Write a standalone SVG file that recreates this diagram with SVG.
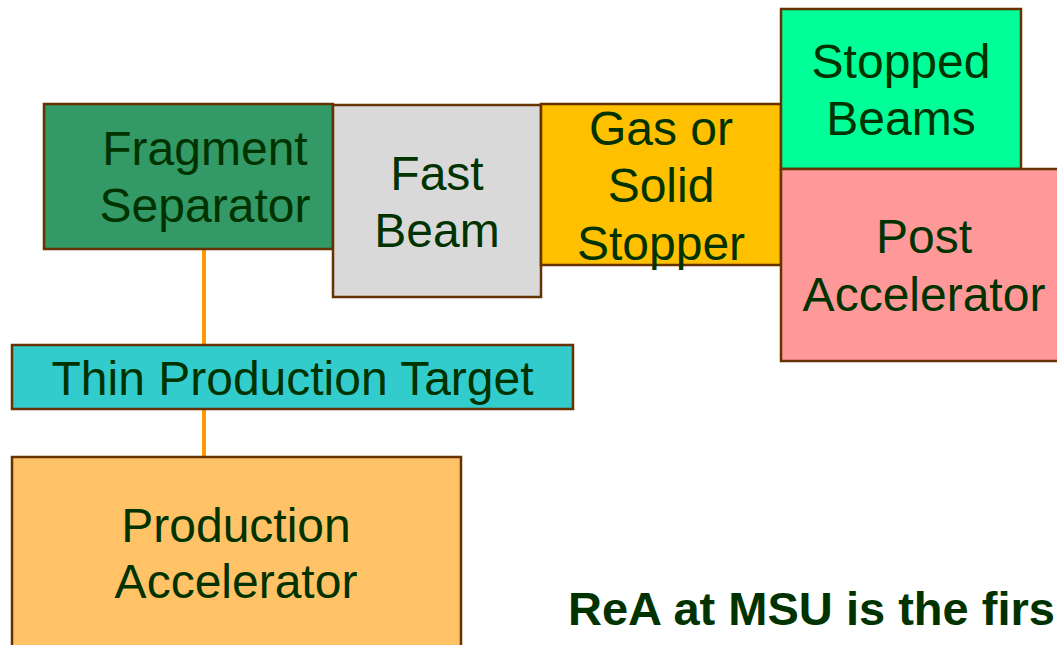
<svg xmlns="http://www.w3.org/2000/svg" width="1057" height="645" viewBox="0 0 1057 645">
<style>
.box{stroke:#663300;stroke-width:2.5}
.t{font-family:"Liberation Sans",Arial,sans-serif;font-size:48px;fill:#003300;text-anchor:middle}
.b{font-family:"Liberation Sans",Arial,sans-serif;font-size:46px;font-weight:bold;fill:#003300}
.c{stroke:#FF9900;stroke-width:4;fill:none}
</style>
<rect width="1057" height="645" fill="#ffffff"/>
<g id="connectors">
<line class="c" x1="204" y1="249" x2="204" y2="345"/>
<line class="c" x1="204" y1="409" x2="204" y2="457"/>
</g>
<g id="fragment-separator">
<rect class="box" x="44" y="104" width="289" height="145" fill="#339966"/>
<text class="t" x="205" y="165">Fragment</text>
<text class="t" x="205" y="222">Separator</text>
</g>
<g id="fast-beam">
<rect class="box" x="333" y="105" width="208" height="192" fill="#D9D9D9"/>
<text class="t" x="437" y="190">Fast</text>
<text class="t" x="437" y="247">Beam</text>
</g>
<g id="stopper">
<rect class="box" x="541" y="104" width="240" height="161" fill="#FFC000"/>
<text class="t" x="661" y="145">Gas or</text>
<text class="t" x="661" y="202">Solid</text>
<text class="t" x="661" y="260">Stopper</text>
</g>
<g id="stopped-beams">
<rect class="box" x="781" y="9" width="240" height="160" fill="#00FF99"/>
<text class="t" x="901" y="78">Stopped</text>
<text class="t" x="901" y="135">Beams</text>
</g>
<g id="post-accelerator">
<rect class="box" x="781" y="169" width="290" height="192" fill="#FF9999"/>
<text class="t" x="924" y="253">Post</text>
<text class="t" x="924" y="311">Accelerator</text>
</g>
<g id="thin-target">
<rect class="box" x="12" y="345" width="561" height="64" fill="#33CCCC"/>
<text class="t" x="292.5" y="395">Thin Production Target</text>
</g>
<g id="production-accelerator">
<rect class="box" x="12" y="457" width="449" height="200" fill="#FFC266"/>
<text class="t" x="236" y="542">Production</text>
<text class="t" x="236" y="598">Accelerator</text>
</g>
<text class="b" x="568" y="625" textLength="487" lengthAdjust="spacingAndGlyphs">ReA at MSU is the firs</text>
</svg>
